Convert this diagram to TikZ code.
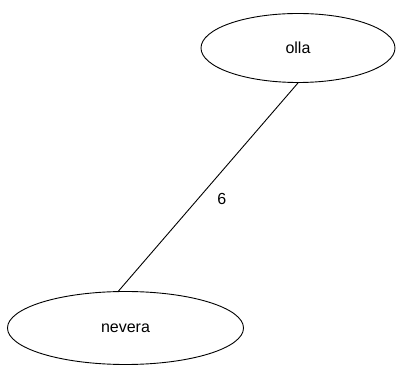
\documentclass[tikz,border=0pt]{standalone}
\usepackage{fontspec}
\setmainfont{Liberation Sans}
\usetikzlibrary{shapes.geometric}
\begin{document}
\begin{tikzpicture}[x=1pt,y=1pt,
  item/.style={draw, ellipse, inner sep=0pt, line width=0.9pt, font=\fontsize{16}{18}\selectfont},
  link/.style={draw, line width=0.9pt}]
\useasboundingbox (0,0) rectangle (396,366);
\node[item, minimum width=194pt, minimum height=69pt] (olla) at (298,318) {olla};
\node[item, minimum width=236pt, minimum height=73pt] (nevera) at (125.5,38) {nevera};
\path[link] (olla.south) -- node[pos=0.56, right=16pt, font=\fontsize{16}{18}\selectfont] (w) {6} ([xshift=-7pt]nevera.north);
\end{tikzpicture}
\end{document}
